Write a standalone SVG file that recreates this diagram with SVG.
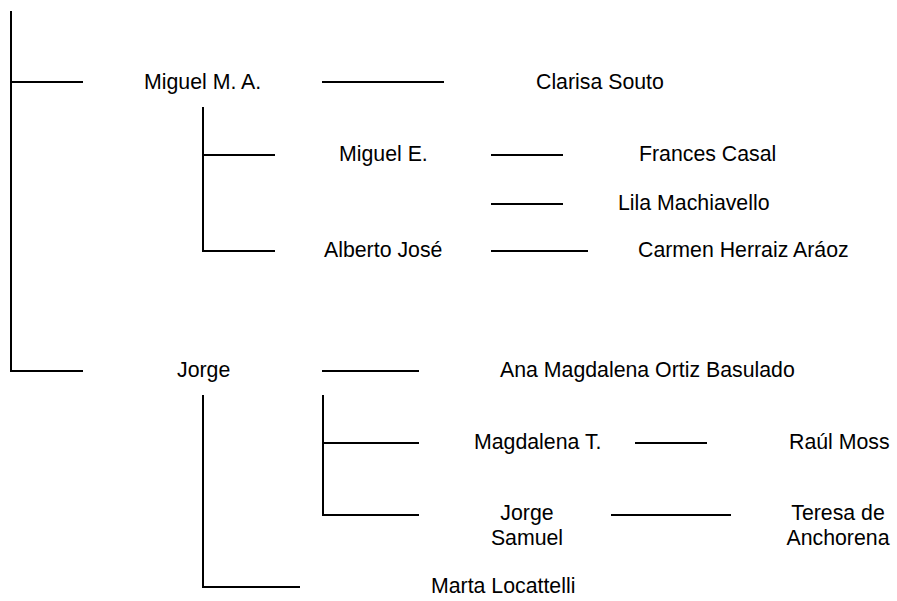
<svg xmlns="http://www.w3.org/2000/svg" width="897" height="601" viewBox="0 0 897 601">
<style>
.c line{stroke:#000;stroke-width:2;fill:none}
text{font-family:"Liberation Sans",Arial,sans-serif;font-size:21.3px;fill:#000}
</style>
<rect width="897" height="601" fill="#fff"/>
<g class="c" id="connectors">
<line x1="11" y1="11" x2="11" y2="372"/>
<line x1="10" y1="82" x2="83" y2="82"/>
<line x1="10" y1="371" x2="83" y2="371"/>
<line x1="322" y1="82" x2="444" y2="82"/>
<line x1="203" y1="107" x2="203" y2="252"/>
<line x1="202" y1="155" x2="275" y2="155"/>
<line x1="202" y1="251" x2="275" y2="251"/>
<line x1="491" y1="155" x2="563" y2="155"/>
<line x1="491" y1="204" x2="563" y2="204"/>
<line x1="491" y1="251" x2="588" y2="251"/>
<line x1="322" y1="371" x2="419" y2="371"/>
<line x1="203" y1="395" x2="203" y2="588"/>
<line x1="202" y1="587" x2="300" y2="587"/>
<line x1="323" y1="395" x2="323" y2="516"/>
<line x1="322" y1="443" x2="419" y2="443"/>
<line x1="322" y1="515" x2="419" y2="515"/>
<line x1="635" y1="443" x2="707" y2="443"/>
<line x1="611" y1="515" x2="731" y2="515"/>
</g>
<g id="miguel-ma"><text x="144" y="89">Miguel M. A.</text></g>
<g id="clarisa"><text x="536" y="89">Clarisa Souto</text></g>
<g id="miguel-e"><text x="339" y="161">Miguel E.</text></g>
<g id="frances"><text x="639" y="161">Frances Casal</text></g>
<g id="lila"><text x="618" y="210">Lila Machiavello</text></g>
<g id="alberto"><text x="324" y="257">Alberto José</text></g>
<g id="carmen"><text x="638" y="257">Carmen Herraiz Aráoz</text></g>
<g id="jorge"><text x="177" y="377">Jorge</text></g>
<g id="ana"><text x="500" y="377">Ana Magdalena Ortiz Basulado</text></g>
<g id="magdalena"><text x="474" y="449">Magdalena T.</text></g>
<g id="raul"><text x="789" y="449">Raúl Moss</text></g>
<g id="jorge-samuel"><text x="527" y="520" text-anchor="middle">Jorge</text><text x="527" y="545" text-anchor="middle">Samuel</text></g>
<g id="teresa"><text x="838" y="520" text-anchor="middle">Teresa de</text><text x="838" y="545" text-anchor="middle">Anchorena</text></g>
<g id="marta"><text x="431" y="593">Marta Locattelli</text></g>
</svg>
